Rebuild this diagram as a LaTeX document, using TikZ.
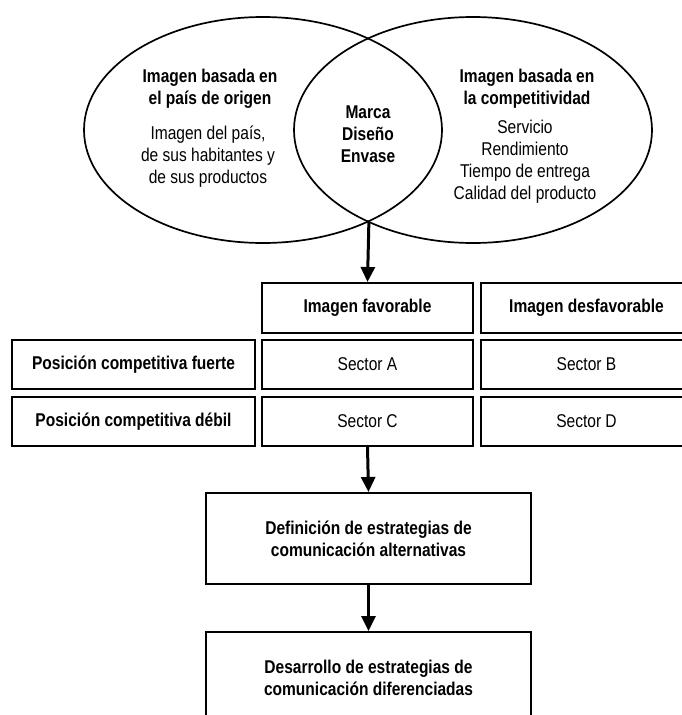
\documentclass[tikz,border=0pt]{standalone}
\usepackage{fontspec}
\setmainfont{Liberation Sans}[FakeStretch=0.84]
\usetikzlibrary{shapes, arrows.meta}

\begin{document}
\fontsize{18.5}{22}\selectfont
\begin{tikzpicture}[x=1pt, y=-1pt, >={Triangle[width=14pt, length=15pt]},
  circ/.style={draw, ellipse, line width=1.7pt, minimum width=358pt, minimum height=226pt, inner sep=0pt},
  cell/.style={draw, line width=2pt, minimum width=211pt, minimum height=50pt, inner sep=0pt},
  rowhead/.style={cell, minimum width=243pt, font=\bfseries},
  stagebox/.style={draw, line width=2pt, minimum width=325pt, minimum height=91pt, align=center, font=\bfseries},
  flow/.style={->, line width=3pt}];

\useasboundingbox (0, 0) rectangle (682, 715);
\clip (0, 0) rectangle (682, 715);

\node (origen) at (263, 130) [circ] {};
\node (compet) at (473, 130) [circ] {};

\node (origtitle) at (210, 89)  [align=center, font=\bfseries] {Imagen basada en\\el país de origen};
\node (origtext)  at (208, 157) [align=center] {Imagen del país,\\de sus habitantes y\\de sus productos};
\node (marca)     at (368, 134) [align=center, font=\bfseries] {Marca\\Diseño\\Envase};
\node (comptitle) at (527, 89)  [align=center, font=\bfseries] {Imagen basada en\\la competitividad};
\node (comptext)  at (525, 162) [align=center] {Servicio\\Rendimiento\\Tiempo de entrega\\Calidad del producto};

\node (favor)    at (367.5, 308)   [cell, font=\bfseries] {Imagen favorable};
\node (desfavor) at (586.5, 308)   [cell, font=\bfseries] {Imagen desfavorable};
\node (fuerte)   at (133.5, 364.5) [rowhead, minimum height=49pt] {Posición competitiva fuerte};
\node (debil)    at (133.5, 421.5) [rowhead, minimum height=49pt] {Posición competitiva débil};
\node (secA)     at (367.5, 364.5) [cell, minimum height=49pt] {Sector A};
\node (secB)     at (586.5, 364.5) [cell, minimum height=49pt] {Sector B};
\node (secC)     at (367.5, 421.5) [cell, minimum height=49pt] {Sector C};
\node (secD)     at (586.5, 421.5) [cell, minimum height=49pt] {Sector D};

\node (define)  at (368.5, 538.5) [stagebox] {Definición de estrategias de\\comunicación alternativas};
\node (develop) at (368.5, 677.5) [stagebox] {Desarrollo de estrategias de\\comunicación diferenciadas};

\path[flow] (origen.-41) edge (favor.north);
\path[flow] (secC.south) edge (define.north);
\path[flow] (define.south) edge (develop.north);

\end{tikzpicture}
\end{document}
